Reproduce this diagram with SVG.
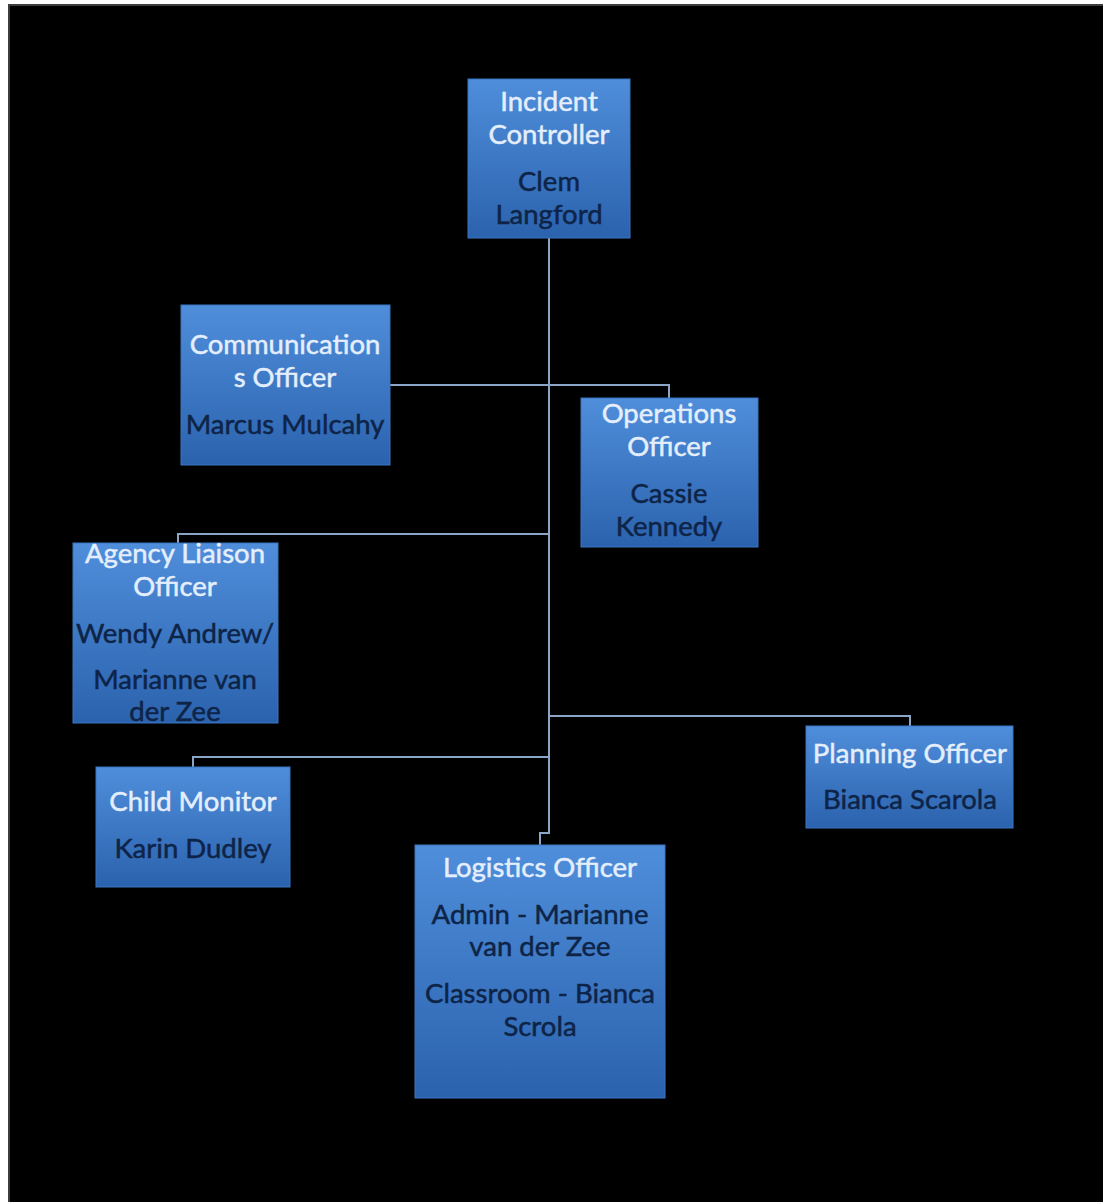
<svg xmlns="http://www.w3.org/2000/svg" width="1103" height="1202" viewBox="0 0 1103 1202">
<defs>
<linearGradient id="g" x1="0" y1="0" x2="0" y2="1">
<stop offset="0" stop-color="#4f8edb"/>
<stop offset="1" stop-color="#2b62ad"/>
</linearGradient>
<style>
.box{fill:url(#g);stroke:#3a74c0;stroke-width:1}
.t{font-family:Lato,"Liberation Sans",sans-serif;font-size:27.5px;text-anchor:middle;fill:#e4eefc;stroke:#e4eefc;stroke-width:0.5}
.n{font-family:Lato,"Liberation Sans",sans-serif;font-size:27.5px;text-anchor:middle;fill:#0e2447;stroke:#0e2447;stroke-width:0.5}
.c{fill:none;stroke:#8ba5c6;stroke-width:2}
</style>
</defs>
<rect x="0" y="0" width="1103" height="1202" fill="#ffffff"/>
<rect x="8" y="4" width="1095" height="1198" fill="#3c3c3c"/>
<rect x="10" y="6" width="1093" height="1196" fill="#000000"/>
<g id="connectors">
<polyline class="c" points="549,238 549,833 540,833 540,845"/>
<polyline class="c" points="390,385 669,385 669,398"/>
<polyline class="c" points="549,534 178,534 178,543"/>
<polyline class="c" points="549,716 910,716 910,726"/>
<polyline class="c" points="549,757 193,757 193,767"/>
</g>
<g id="incident">
<rect class="box" x="468" y="79" width="162" height="159"/>
<text class="t" x="549" y="111">Incident</text>
<text class="t" x="549" y="144">Controller</text>
<text class="n" x="549" y="191">Clem</text>
<text class="n" x="549" y="224">Langford</text>
</g>
<g id="communications">
<rect class="box" x="181" y="305" width="209" height="160"/>
<text class="t" x="285" y="354">Communication</text>
<text class="t" x="285" y="387">s Officer</text>
<text class="n" x="285" y="434">Marcus Mulcahy</text>
</g>
<g id="operations">
<rect class="box" x="581" y="398" width="177" height="149"/>
<text class="t" x="669" y="423">Operations</text>
<text class="t" x="669" y="456">Officer</text>
<text class="n" x="669" y="503">Cassie</text>
<text class="n" x="669" y="536">Kennedy</text>
</g>
<g id="agency">
<rect class="box" x="73" y="543" width="205" height="180"/>
<text class="t" x="175" y="563">Agency Liaison</text>
<text class="t" x="175" y="596">Officer</text>
<text class="n" x="175" y="643">Wendy Andrew/</text>
<text class="n" x="175" y="689">Marianne van</text>
<text class="n" x="175" y="721">der Zee</text>
</g>
<g id="planning">
<rect class="box" x="806" y="726" width="207" height="102"/>
<text class="t" x="910" y="763">Planning Officer</text>
<text class="n" x="910" y="809">Bianca Scarola</text>
</g>
<g id="child">
<rect class="box" x="96" y="767" width="194" height="120"/>
<text class="t" x="193" y="811">Child Monitor</text>
<text class="n" x="193" y="858">Karin Dudley</text>
</g>
<g id="logistics">
<rect class="box" x="415" y="845" width="250" height="253"/>
<text class="t" x="540" y="877">Logistics Officer</text>
<text class="n" x="540" y="924">Admin - Marianne</text>
<text class="n" x="540" y="956">van der Zee</text>
<text class="n" x="540" y="1003">Classroom - Bianca</text>
<text class="n" x="540" y="1036">Scrola</text>
</g>
</svg>
